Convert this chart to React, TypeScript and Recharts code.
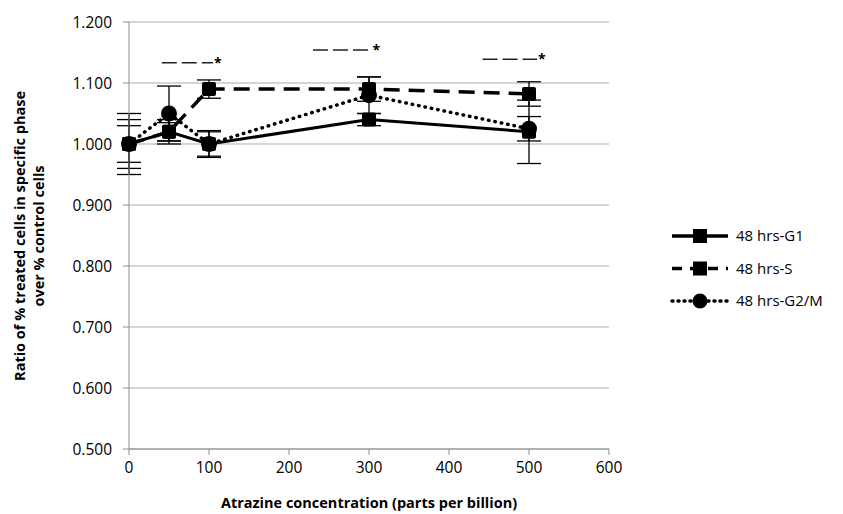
import { LineChart, Line, XAxis, YAxis, CartesianGrid, ErrorBar, ReferenceLine } from 'recharts'

const concentrations = [0, 50, 100, 300, 500]
const g1 = [1.0, 1.02, 1.0, 1.04, 1.02]
const g1Err = [0.05, 0.02, 0.022, 0.01, 0.052]
const sPhase = [1.0, 1.02, 1.09, 1.09, 1.082]
const sErr = [0.04, 0.015, 0.015, 0.02, 0.02]
const g2m = [1.0, 1.05, 1.0, 1.08, 1.025]
const g2mErr = [0.03, 0.045, 0.02, 0.03, 0.02]

const xTicks = [0, 100, 200, 300, 400, 500, 600]
const yTicks = [0.5, 0.6, 0.7, 0.8, 0.9, 1.0, 1.1, 1.2]

// significance marks: [x start, x end, y]
const sigMarks = [
  [41, 105, 1.133],
  [230, 303, 1.154],
  [442, 510, 1.139],
]

const data = concentrations.map((c, i) => ({
  x: c,
  g1: g1[i],
  g1Err: g1Err[i],
  s: sPhase[i],
  sErr: sErr[i],
  g2m: g2m[i],
  g2mErr: g2mErr[i],
}))

const FONT = 'Open Sans, sans-serif'

const Square = (props: any) => {
  const { cx, cy } = props
  if (cx == null || cy == null) return null
  return <rect x={cx - 7} y={cy - 7} width={14} height={14} rx={2} fill="#000" />
}

const Circle = (props: any) => {
  const { cx, cy } = props
  if (cx == null || cy == null) return null
  return <circle cx={cx} cy={cy} r={8} fill="#000" />
}

const legendItems = [
  { name: '48 hrs-G1', dash: undefined, shape: 'square' },
  { name: '48 hrs-S', dash: '10 8', shape: 'square' },
  { name: '48 hrs-G2/M', dash: '1 5', shape: 'circle' },
]

export default function App() {
  return (
    <div style={{ position: 'absolute', left: 0, top: 0, width: 843, height: 514, background: '#fff' }}>
      <LineChart width={843} height={514} data={data} margin={{ top: 22, right: 234, bottom: 0, left: 0 }}>
        <CartesianGrid horizontal vertical={false} stroke="#ababab" />
        <XAxis
          dataKey="x"
          type="number"
          domain={[0, 600]}
          ticks={xTicks}
          height={65}
          stroke="#8c8c8c"
          tickSize={6}
          tick={{ fill: '#000', fontSize: 15.5, fontFamily: FONT, dy: 5 }}
          label={{ value: 'Atrazine concentration (parts per billion)', position: 'insideBottom', offset: 6, style: { fontSize: 14.5, fontWeight: 700, fontFamily: FONT, fill: '#000' } }}
        />
        <YAxis
          type="number"
          domain={[0.5, 1.2]}
          ticks={yTicks}
          width={129}
          stroke="#8c8c8c"
          tickSize={6}
          tickFormatter={(v: number) => v.toFixed(3)}
          tick={{ fill: '#000', fontSize: 15.5, fontFamily: FONT, dx: -9 }}
        />
        {sigMarks.map((m, i) => (
          <ReferenceLine
            key={i}
            segment={[{ x: m[0], y: m[2] }, { x: m[1], y: m[2] }]}
            stroke="#222"
            strokeWidth={1.5}
            strokeDasharray="15 5"
            label={{ value: '*', position: 'right', offset: 1, style: { fontSize: 14, fontWeight: 700, fill: '#000', fontFamily: FONT } }}
          />
        ))}
        <Line dataKey="g1" stroke="#000" strokeWidth={3} dot={<Square />} activeDot={false} isAnimationActive={false}>
          <ErrorBar dataKey="g1Err" direction="y" width={12} stroke="#000" strokeWidth={1.3} />
        </Line>
        <Line dataKey="s" stroke="#000" strokeWidth={3.5} strokeDasharray="16 9" dot={<Square />} activeDot={false} isAnimationActive={false}>
          <ErrorBar dataKey="sErr" direction="y" width={12} stroke="#000" strokeWidth={1.3} />
        </Line>
        <Line dataKey="g2m" stroke="#000" strokeWidth={3.5} strokeDasharray="0.5 6" strokeLinecap="round" dot={<Circle />} activeDot={false} isAnimationActive={false}>
          <ErrorBar dataKey="g2mErr" direction="y" width={12} stroke="#000" strokeWidth={1.3} />
        </Line>
      </LineChart>
      <div style={{ position: 'absolute', left: 10, top: 236, width: 40, height: 0 }}>
        <svg width={60} height={400} style={{ position: 'absolute', left: -10, top: -200, overflow: 'visible' }}>
          <text transform="translate(25,200) rotate(-90)" textAnchor="middle" style={{ fontSize: 14.5, fontWeight: 700, fontFamily: FONT }}>
            <tspan x={0} dy={0}>Ratio of % treated cells in specific phase</tspan>
            <tspan x={0} dy={19}>over % control cells</tspan>
          </text>
        </svg>
      </div>
      <svg width={200} height={110} style={{ position: 'absolute', left: 660, top: 218 }}>
        {legendItems.map((it, i) => {
          const y = 18 + i * 32.5
          return (
            <g key={it.name}>
              <line x1={12} x2={68} y1={y} y2={y} stroke="#000" strokeWidth={3.5} strokeDasharray={it.dash} strokeLinecap={it.shape === 'circle' ? 'round' : 'butt'} />
              {it.shape === 'square' ? <rect x={33} y={y - 7} width={14} height={14} fill="#000" /> : <circle cx={40} cy={y} r={7.5} fill="#000" />}
              <text x={76} y={y + 5} style={{ fontSize: 15, fontFamily: FONT }}>{it.name}</text>
            </g>
          )
        })}
      </svg>
    </div>
  )
}
